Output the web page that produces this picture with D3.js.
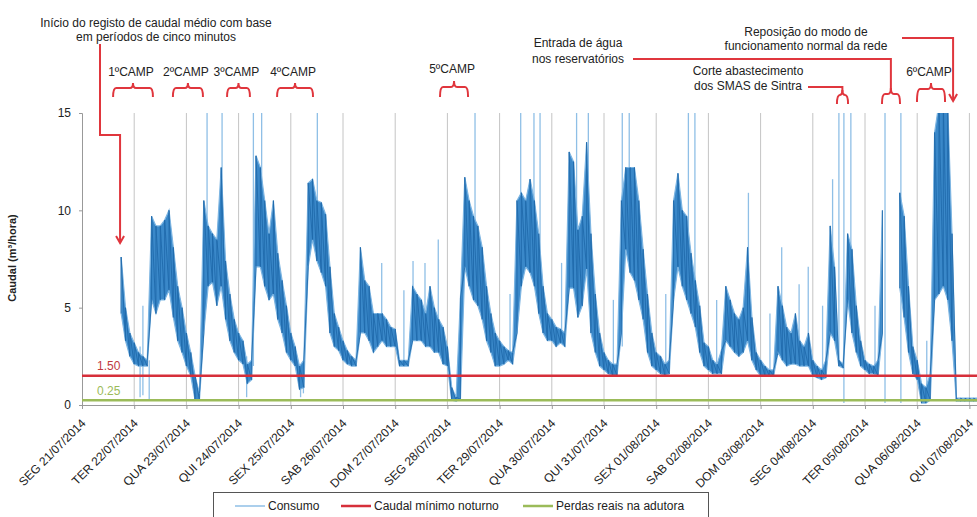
<!DOCTYPE html>
<html><head><meta charset="utf-8">
<script src="https://cdn.jsdelivr.net/npm/d3@7/dist/d3.min.js"></script>
<style>body{margin:0;background:#fff}svg{display:block;font-family:"Liberation Sans",Arial,sans-serif}</style>
</head><body><svg id="c" width="977" height="517"></svg>
<script>
// ---------- DATA ----------
const dayLabels = ["SEG 21/07/2014","TER 22/07/2014","QUA 23/07/2014","QUI 24/07/2014","SEX 25/07/2014","SAB 26/07/2014","DOM 27/07/2014","SEG 28/07/2014","TER 29/07/2014","QUA 30/07/2014","QUI 31/07/2014","SEX 01/08/2014","SAB 02/08/2014","DOM 03/08/2014","SEG 04/08/2014","TER 05/08/2014","QUA 06/08/2014","QUI 07/08/2014"];
const yTicks = [0, 5, 10, 15];
// Consumo (m3/hora), 2-hour windows starting 21/07 18:00: lower and upper envelope of the 5-min record
const startHour = 18, stepHours = 2;
const consumoMin = [
  4.7,3.3,2.5,
  2.1,2.0,2.0,2.0,5.4,4.7,5.4,5.4,5.9,4.5,3.3,2.7,
  2.0,1.5,0.25,0.25,3.7,6.1,6.3,5.1,6.1,4.4,3.3,2.7,
  2.3,2.1,1.1,1.3,7.1,7.1,6.1,5.4,5.7,4.4,3.7,2.7,
  2.3,2.0,0.8,0.9,7.1,8.5,7.4,6.8,6.1,3.7,3.0,2.8,
  2.3,2.1,2.0,2.0,3.7,3.7,3.3,2.7,3.0,3.3,3.0,3.0,
  3.0,2.0,2.0,2.0,3.3,3.3,3.3,3.0,3.0,2.7,2.7,2.1,
  2.0,0.25,0.2,0.3,7.1,6.1,5.4,5.1,4.4,3.3,2.7,2.0,
  2.0,2.1,2.3,2.1,3.7,6.1,7.1,6.8,6.1,4.7,3.7,3.3,
  3.3,3.0,3.2,3.0,6.0,6.0,4.5,5.1,7.0,3.7,2.7,2.0,
  1.8,1.6,1.5,1.5,3.7,8.0,6.8,6.4,5.4,4.4,2.7,2.0,
  1.8,1.6,1.5,1.6,5.4,7.1,6.1,5.4,4.7,4.0,2.7,2.0,
  1.8,1.6,1.6,1.6,3.3,3.0,2.7,2.5,2.7,3.3,2.3,1.8,
  1.5,1.5,1.5,1.5,2.7,2.3,2.0,2.1,2.1,2.0,2.0,2.0,
  1.5,1.4,1.3,1.4,3.7,3.3,2.0,1.9,5.4,3.7,2.7,2.0,
  1.8,1.6,1.6,1.5,3.7,null,null,null,6.0,4.5,2.7,1.6,
  1.3,0.1,0.1,0.25,5.4,5.7,6.1,5.4,3.3,0.2,0.2,0.2,
  0.2,0.2,0.2
];
const consumoMax = [
  7.6,5.0,3.7,
  3.2,2.7,2.5,2.3,9.7,9.2,9.2,9.5,10.0,8.1,6.1,5.0,
  3.7,2.7,1.5,0.6,10.5,9.2,8.8,8.5,12.2,7.4,5.7,4.4,
  3.7,3.3,2.1,2.3,12.8,12.2,10.5,8.8,10.5,7.8,6.4,5.1,
  3.7,3.0,2.0,2.3,11.4,11.6,10.5,10.4,9.8,7.1,4.7,4.0,
  3.3,2.8,2.5,2.3,8.1,6.4,6.1,4.7,4.7,4.7,4.4,4.0,
  3.9,2.3,2.3,2.3,6.1,5.7,5.4,4.7,6.1,5.0,4.4,4.0,
  3.0,0.9,0.4,5.5,11.7,10.5,9.7,9.2,8.1,6.1,4.7,3.7,
  3.3,3.0,2.8,2.7,10.5,10.9,10.5,11.6,10.5,8.8,6.1,4.7,
  4.4,4.0,3.9,3.7,13.0,12.5,9.0,9.7,13.5,8.8,5.7,3.7,
  2.7,2.3,2.1,2.1,10.5,12.2,12.2,12.2,10.5,8.0,5.7,3.7,
  2.7,2.5,2.1,2.3,10.5,11.9,10.0,9.7,7.8,6.4,5.1,3.2,
  3.0,2.3,2.1,2.8,6.1,5.4,4.7,4.4,5.0,8.1,4.5,2.7,
  2.3,2.0,1.8,1.8,6.1,5.1,4.0,3.7,4.7,3.3,3.0,3.7,
  2.3,2.0,1.8,2.3,9.2,7.1,2.3,2.1,8.8,8.0,5.1,3.3,
  2.3,2.1,2.0,2.3,10.0,null,null,null,10.9,9.7,6.1,3.0,
  2.3,1.1,0.9,1.6,14.0,15.5,15.5,15.5,8.8,0.35,0.35,0.35,
  0.35,0.35,0.35
];
// isolated excursions of the record: [hour since 21/07 00:00, from value, to value]
const spikes = [
  [26.7,0.4,3.0],[28.0,0.5,5.1],[30.9,0.25,2.3],[57.5,9,15.5],[64.4,8,15.5],[75.7,0.4,2.5],
  [78.8,2,15.5],[82.6,10,15.5],[100.5,0.4,2.0],[101.8,0.6,2.2],[108.2,9,15.5],[137.8,4,7.3],
  [148,2.2,5.9],[152.2,4,7.4],[157.7,4,7.3],[163.8,3,8.5],[180.7,8,15.5],[196.8,2.5,5.7],
  [201.7,6,15.5],[207.8,9,15.5],[210.6,7,15.5],[220.5,3.5,7.3],[227.4,8,15.5],[232.8,9,15.5],
  [244.3,2,5.4],[248.4,3,15.5],[251.6,9,15.5],[268.4,2,5.7],[278.8,8,15.5],[281.8,6,15.5],
  [291.8,2,5.4],[306.4,4,10.9],[316.3,1.6,4.7],[321.7,3,8.1],[329.7,2.5,6.2],[333.9,2.5,7.1],
  [340.5,1.5,5.1],[345.1,4,11.6],[348.0,2,15.5],[350.3,0.1,15.5],[353.5,6,15.5],[364.6,1.7,5.1],
  [369.2,0.1,15.5],[376.5,0.1,15.5],[388.4,0.2,3.3]
];
const caudalMinimoNoturno = 1.50;
const perdasReaisAdutora = 0.25;
const legendItems = ["Consumo","Caudal mínimo noturno","Perdas reais na adutora"];
// annotations: label and bracketed time span (hours since 21/07 00:00)
const campanhas = [
  {label:"1ºCAMP", from:14.3, to:32.6},
  {label:"2ºCAMP", from:41.8, to:55.6},
  {label:"3ºCAMP", from:66.7, to:77.2},
  {label:"4ºCAMP", from:89.7, to:106.2},
  {label:"5ºCAMP", from:164.6, to:177.5},
  {label:"6ºCAMP", from:383.9, to:396.8}
];

// ---------- CHART ----------
const svg = d3.select("#c");
const W = 977, H = 517;
const x = d3.scaleLinear().domain([0, 17*24]).range([82, 969.4]);
const y = d3.scaleLinear().domain([0, 15]).range([405, 113]);
const RED = "#e0363d", GREEN = "#9bbb59", BLUE = "#3a88c9", LBLUE = "#8fbfe6";

svg.append("defs").append("clipPath").attr("id","plot")
  .append("rect").attr("x",82).attr("y",113).attr("width",W-82).attr("height",405-113);

// vertical gridlines per day
svg.append("g").selectAll("line").data(d3.range(1, dayLabels.length)).join("line")
  .attr("x1", d => x(d*24)).attr("x2", d => x(d*24))
  .attr("y1", y(15)).attr("y2", y(0))
  .attr("stroke", "#c4c4c4").attr("stroke-width", 1);

// axes
const yAxis = svg.append("g").attr("transform","translate(82,0)")
  .call(d3.axisLeft(y).tickValues(yTicks).tickSize(3).tickPadding(8));
yAxis.select(".domain").attr("stroke","#999");
yAxis.selectAll(".tick line").attr("stroke","#999");
yAxis.selectAll("text").attr("font-size",12).attr("fill","#222").attr("font-family","Liberation Sans, Arial, sans-serif");

const xAxis = svg.append("g").attr("transform","translate(0,405)")
  .call(d3.axisBottom(x).tickValues(d3.range(0, dayLabels.length).map(i => i*24))
    .tickSize(4).tickFormat((d,i) => dayLabels[i]));
xAxis.select(".domain").attr("d", `M82,0.5H${W}`).attr("stroke","#999");
xAxis.selectAll(".tick line").attr("stroke","#999");
xAxis.selectAll("text").attr("font-size",12).attr("fill","#222")
  .attr("font-family","Liberation Sans, Arial, sans-serif")
  .attr("text-anchor","end").attr("dy",0)
  .attr("transform","translate(-1,14) rotate(-45)");

svg.append("text").attr("transform","translate(16,258) rotate(-90)")
  .attr("text-anchor","middle").attr("font-size",11).attr("font-weight","bold").attr("fill","#222")
  .text("Caudal (m³/hora)");

// consumo series
const series = consumoMin.map((lo,i) => ({t: startHour + i*stepHours, lo, hi: consumoMax[i]}));
const gData = svg.append("g").attr("clip-path","url(#plot)");
gData.selectAll("line.spk").data(spikes).join("line").attr("class","spk")
  .attr("x1", d => x(d[0])).attr("x2", d => x(d[0]))
  .attr("y1", d => y(d[1])).attr("y2", d => y(d[2]))
  .attr("stroke", LBLUE).attr("stroke-width", 1.3);
gData.append("path").datum(series)
  .attr("d", d3.area().defined(d => d.lo != null).x(d => x(d.t)).y0(d => y(d.lo)).y1(d => y(d.hi)))
  .attr("fill", BLUE).attr("stroke", "#7db5e2").attr("stroke-width", 1.2);
// trace of the record inside each window (low -> high), giving the dense look
const zig = [];
series.forEach(d => { zig.push({t:d.t, v:d.lo}); zig.push({t:d.t, v:d.hi}); });
gData.append("path").datum(zig)
  .attr("d", d3.line().defined(d => d.v != null).x(d => x(d.t)).y(d => y(d.v)))
  .attr("fill","none").attr("stroke","#1f6aac").attr("stroke-width",0.9);

// reference lines
svg.append("line").attr("x1",82).attr("x2",W).attr("y1",y(caudalMinimoNoturno)).attr("y2",y(caudalMinimoNoturno))
  .attr("stroke","#d62f3a").attr("stroke-width",2.5);
svg.append("line").attr("x1",82).attr("x2",W).attr("y1",y(perdasReaisAdutora)).attr("y2",y(perdasReaisAdutora))
  .attr("stroke",GREEN).attr("stroke-width",2.5);
svg.append("text").attr("x",97).attr("y",y(caudalMinimoNoturno)-6).attr("font-size",12).attr("fill","#c0393f")
  .text(caudalMinimoNoturno.toFixed(2));
svg.append("text").attr("x",97).attr("y",y(perdasReaisAdutora)-5).attr("font-size",12).attr("fill",GREEN)
  .text(perdasReaisAdutora.toFixed(2));

// annotations
const ann = svg.append("g").attr("fill","#222").attr("font-size",12);
function brace(x0, x1, yTop, yBar, yEnd, xm){
  xm = xm == null ? (x0+x1)/2 : xm;
  const r = 3;
  ann.append("path").attr("fill","none").attr("stroke",RED).attr("stroke-width",2)
    .attr("d",`M${x0},${yEnd} Q${x0},${yBar} ${x0+r},${yBar} L${xm-r},${yBar} Q${xm},${yBar} ${xm},${yTop} Q${xm},${yBar} ${xm+r},${yBar} L${x1-r},${yBar} Q${x1},${yBar} ${x1},${yEnd}`);
}
campanhas.forEach((c,i) => {
  const x0 = x(c.from), x1 = x(c.to), xm = (x0+x1)/2;
  const tb = i < 4 ? 76 : (i === 4 ? 73 : 76);
  ann.append("text").attr("x", xm - 2).attr("y", tb).attr("text-anchor","middle").text(c.label);
  if (i < 4) brace(x0, x1, 83, 88, 97);
  else if (i === 4) brace(x0, x1, 81, 87, 97);
  else brace(x0, x1, 83, 89, 102);
});
// Início do registo
ann.append("text").attr("x",156).attr("y",27).attr("text-anchor","middle").text("Início do registo de caudal médio com base");
ann.append("text").attr("x",156).attr("y",41).attr("text-anchor","middle").text("em períodos de cinco minutos");
ann.append("path").attr("fill","none").attr("stroke",RED).attr("stroke-width",2)
  .attr("d",`M100,44 V135 H${x(17.5)} V243`);
ann.append("path").attr("fill","none").attr("stroke",RED).attr("stroke-width",2)
  .attr("d",`M${x(17.5)-4},236 L${x(17.5)},243 L${x(17.5)+4},236`);
// Entrada de água
ann.append("text").attr("x",578).attr("y",47).attr("text-anchor","middle").text("Entrada de água");
ann.append("text").attr("x",578).attr("y",63).attr("text-anchor","middle").text("nos reservatórios");
brace(x(367.8), x(376.1), 88, 94, 104, x(371.9));
ann.append("path").attr("fill","none").attr("stroke",RED).attr("stroke-width",2)
  .attr("d",`M633,59 H${x(371.9)} V90`);
// Corte abastecimento
ann.append("text").attr("x",748).attr("y",75).attr("text-anchor","middle").text("Corte abastecimento");
ann.append("text").attr("x",748).attr("y",90).attr("text-anchor","middle").text("dos SMAS de Sintra");
brace(x(347.1), x(352.2), 90, 95, 104, x(349.6));
ann.append("path").attr("fill","none").attr("stroke",RED).attr("stroke-width",2)
  .attr("d",`M808,87 H${x(349.6)} V92`);
// Reposição
ann.append("text").attr("x",806).attr("y",36).attr("text-anchor","middle").text("Reposição do modo de");
ann.append("text").attr("x",806).attr("y",50).attr("text-anchor","middle").text("funcionamento normal da rede");
ann.append("path").attr("fill","none").attr("stroke",RED).attr("stroke-width",2)
  .attr("d",`M902,38 H${x(400.5)} V101`);
ann.append("path").attr("fill","none").attr("stroke",RED).attr("stroke-width",2)
  .attr("d",`M${x(400.5)-4},94 L${x(400.5)},101 L${x(400.5)+4},94`);

// legend
const lg = svg.append("g");
lg.append("rect").attr("x",213.5).attr("y",492.5).attr("width",495).attr("height",30)
  .attr("fill","#fff").attr("stroke","#555");
const lgCols = [LBLUE, "#d62f3a", GREEN];
const lgX = [235, 341, 523];
legendItems.forEach((t,i) => {
  lg.append("line").attr("x1",lgX[i]).attr("x2",lgX[i]+30).attr("y1",506).attr("y2",506)
    .attr("stroke",lgCols[i]).attr("stroke-width", i === 0 ? 1.5 : 2.5);
  lg.append("text").attr("x",lgX[i]+33).attr("y",510).attr("font-size",12).attr("fill","#222").text(t);
});
</script></body></html>
